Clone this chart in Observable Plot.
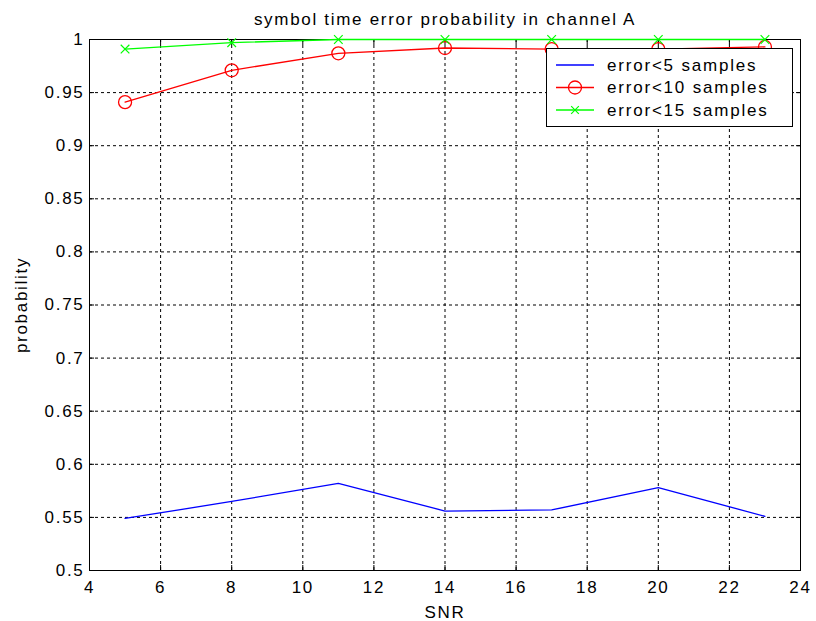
<!DOCTYPE html>
<html>
<head>
<meta charset="utf-8">
<script src="https://cdn.jsdelivr.net/npm/d3@7"></script>
<script src="https://cdn.jsdelivr.net/npm/@observablehq/plot@0.6"></script>
<style>
  body { margin: 0; background: #fff; }
  #wrap { position: relative; width: 816px; height: 621px; font-family: "Liberation Sans", Arial, sans-serif; }
  #legend { position: absolute; left: 546px; top: 48px; }
</style>
</head>
<body>
<div id="wrap"></div>
<script>
const snr = [5, 8, 11, 14, 17, 20, 23];
const err5 = [0.549, 0.565, 0.582, 0.556, 0.557, 0.578, 0.551];
const err10 = [0.941, 0.971, 0.987, 0.992, 0.991, 0.991, 0.993];
const err15 = [0.991, 0.997, 1.0, 1.0, 1.0, 1.0, 1.0];
const seriesNames = ["error<5 samples", "error<10 samples", "error<15 samples"];
const seriesColors = ["#0000ff", "#ff0000", "#00ff00"];
const xTicks = [4, 6, 8, 10, 12, 14, 16, 18, 20, 22, 24];
const yTicks = [0.5, 0.55, 0.6, 0.65, 0.7, 0.75, 0.8, 0.85, 0.9, 0.95, 1];
const titleText = "symbol time error probability in channel A";
const xLabel = "SNR";
const yLabel = "probability";

const rows = (vals, name) => snr.map((x, i) => ({x, y: vals[i], s: name}));
const d5 = rows(err5, seriesNames[0]);
const d10 = rows(err10, seriesNames[1]);
const d15 = rows(err15, seriesNames[2]);

const fmt = d => String(+d.toFixed(2));
const font = 17;
const spacing = "1.7px";

const chart = Plot.plot({
  width: 816,
  height: 621,
  marginLeft: 89,
  marginRight: 16,
  marginTop: 39,
  marginBottom: 51,
  style: { fontFamily: '"Liberation Sans", Arial, sans-serif', fontSize: font + "px", letterSpacing: spacing, color: "black", background: "white", overflow: "visible" },
  x: { domain: [4, 24] },
  y: { domain: [0.5, 1] },
  marks: [
    Plot.gridX(xTicks.slice(1, -1), { stroke: "black", strokeOpacity: 1, strokeDasharray: "3,3", strokeWidth: 1 }),
    Plot.gridY(yTicks.slice(1, -1), { stroke: "black", strokeOpacity: 1, strokeDasharray: "3,3", strokeWidth: 1 }),
    Plot.axisX(xTicks, { anchor: "bottom", tickSize: -5, tickPadding: 15, tickFormat: fmt, fontSize: font, label: null }),
    Plot.axisX(xTicks, { anchor: "top", tickSize: -5, tickFormat: () => "", label: null }),
    Plot.axisY(yTicks, { anchor: "left", tickSize: -5, tickPadding: 10, tickFormat: fmt, fontSize: font, label: null }),
    Plot.axisY(yTicks, { anchor: "right", tickSize: -5, tickFormat: () => "", label: null }),
    Plot.frame({ stroke: "black", strokeWidth: 1 }),
    Plot.line(d5, { x: "x", y: "y", stroke: seriesColors[0], strokeWidth: 1.3 }),
    Plot.line(d10, { x: "x", y: "y", stroke: seriesColors[1], strokeWidth: 1.3 }),
    Plot.dot(d10, { x: "x", y: "y", stroke: seriesColors[1], r: 6.5, strokeWidth: 1.3, fill: "none" }),
    Plot.line(d15, { x: "x", y: "y", stroke: seriesColors[2], strokeWidth: 1.3 }),
    Plot.dot(d15, { x: "x", y: "y", stroke: seriesColors[2], symbol: "times", r: 4, strokeWidth: 1.2 }),
    Plot.text([titleText], { frameAnchor: "top", dy: -20, lineAnchor: "middle", fontSize: font }),
    Plot.text([xLabel], { frameAnchor: "bottom", dy: 42, lineAnchor: "middle", fontSize: font }),
    Plot.text([yLabel], { frameAnchor: "left", dx: -68, rotate: -90, textAnchor: "middle", lineAnchor: "middle", fontSize: font })
  ]
});

const wrap = document.getElementById("wrap");
wrap.appendChild(chart);

// Legend (MATLAB-style boxed legend in the upper right)
const lw = 246, lh = 78, rowH = 22.5;
const leg = d3.create("svg").attr("id", "legend").attr("width", lw + 1).attr("height", lh + 1)
  .style("font-family", '"Liberation Sans", Arial, sans-serif').style("letter-spacing", "1.8px");
leg.append("rect").attr("x", 0.5).attr("y", 0.5).attr("width", lw).attr("height", lh)
  .attr("fill", "white").attr("stroke", "black");
seriesNames.forEach((name, i) => {
  const cy = 17 + i * rowH;
  const g = leg.append("g");
  g.append("line").attr("x1", 10).attr("x2", 48).attr("y1", cy).attr("y2", cy)
    .attr("stroke", seriesColors[i]).attr("stroke-width", 1.3);
  if (i === 1) g.append("circle").attr("cx", 29).attr("cy", cy).attr("r", 6.5)
    .attr("fill", "none").attr("stroke", seriesColors[i]).attr("stroke-width", 1.3);
  if (i === 2) g.append("path").attr("d", d3.symbol(d3.symbolTimes, 40)().toString())
    .attr("transform", `translate(29,${cy})`).attr("fill", "none").attr("stroke", seriesColors[i]).attr("stroke-width", 1.2);
  g.append("text").attr("x", 61).attr("y", cy).attr("dy", "0.35em").attr("font-size", font).text(name);
});
wrap.appendChild(leg.node());
</script>
</body>
</html>
